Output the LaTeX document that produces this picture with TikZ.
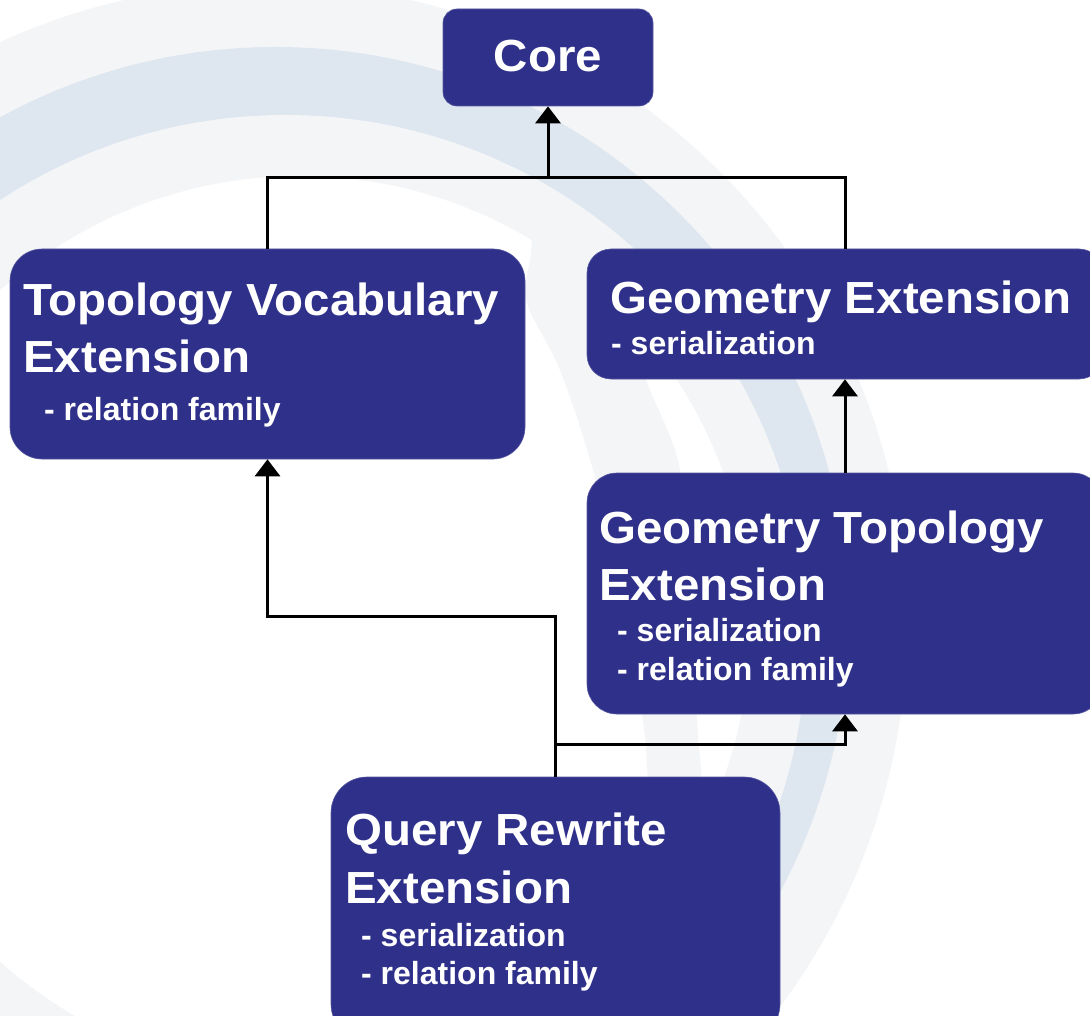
\documentclass[tikz,border=0pt]{standalone}
\usepackage{fontspec}
\setmainfont{Liberation Sans}
\newfontfamily\titlefont{Liberation Sans}[FakeStretch=1.055]
\usetikzlibrary{arrows.meta}
\definecolor{boxblue}{RGB}{46,48,138}
\definecolor{bggray}{RGB}{244,245,247}
\definecolor{bgblue}{RGB}{222,230,239}
\begin{document}
\begin{tikzpicture}[x=1pt,y=-1pt,
  box/.style={rectangle, fill=boxblue, draw=boxblue!80!white, line width=0.6pt, inner sep=0pt},
  ttl/.style={anchor=base west, inner sep=0pt, text=white, font=\titlefont\bfseries\fontsize{45}{54}\selectfont},
  sub/.style={anchor=base west, inner sep=0pt, text=white, font=\bfseries\fontsize{32}{38}\selectfont},
  conn/.style={line width=3pt, draw=black, line join=miter},
  arr/.style={conn, -{Triangle[width=25pt,length=17pt]}}]
\useasboundingbox (0,0) rectangle (1090,1016);
\clip (0,0) rectangle (1090,1016);
% background swoosh
\fill[white] (0,0) rectangle (1090,1016);
\fill[bggray] (267,624) circle (640);
\fill[bgblue] (275.5,620) circle (573);
\fill[bggray] (285.6,636) circle (521);
\fill[white] (300,626) circle (450);
\fill[bggray] plot[smooth cycle, tension=0.55] coordinates {(545,195) (530,260) (527,303) (560,370) (593,470) (620,590) (643,720) (655,820) (700,820) (697,720) (690,600) (680,470) (650,390) (622,320) (600,250)};
% boxes
\node[box, minimum width=210pt, minimum height=97pt, rounded corners=14pt] (core) at (548,57.5) {};
\node[box, minimum width=515pt, minimum height=210pt, rounded corners=32pt] (tv) at (267.5,354) {};
\node[box, minimum width=516pt, minimum height=130pt, rounded corners=24pt] (ge) at (845,314) {};
\node[box, minimum width=516pt, minimum height=241pt, rounded corners=30pt] (gt) at (845,593.5) {};
\node[box, minimum width=449pt, minimum height=263pt, rounded corners=36pt] (qr) at (555.5,908.5) {};
% texts
\node[ttl, anchor=base] (coreA) at (548,72) {Core};
\node[ttl] (tvA) at (23,316) {Topology Vocabulary};
\node[ttl] (tvB) at (23,373) {Extension};
\node[sub] (tvC) at (44,420) {- relation family};
\node[ttl] (geA) at (610,314) {Geometry Extension};
\node[sub] (geB) at (611,355) {- serialization};
\node[ttl] (gtA) at (599,543) {Geometry Topology};
\node[ttl] (gtB) at (599,600) {Extension};
\node[sub] (gtC) at (617,641) {- serialization};
\node[sub] (gtD) at (617,680) {- relation family};
\node[ttl] (qrA) at (345,845) {Query Rewrite};
\node[ttl] (qrB) at (345,903) {Extension};
\node[sub] (qrC) at (361,946) {- serialization};
\node[sub] (qrD) at (361,984) {- relation family};
% connectors
\coordinate (jtop) at (548,178);
\draw[conn] (tv.north) |- (jtop) -| (ge.north);
\draw[arr] (jtop) -- (core.south);
\draw[arr] (gt.north) -- (ge.south);
\draw[arr] (qr.north) -- ++(0,-160) -| (tv.south);
\draw[arr] (qr.north) ++(0,-32) -| (gt.south);
\end{tikzpicture}
\end{document}
